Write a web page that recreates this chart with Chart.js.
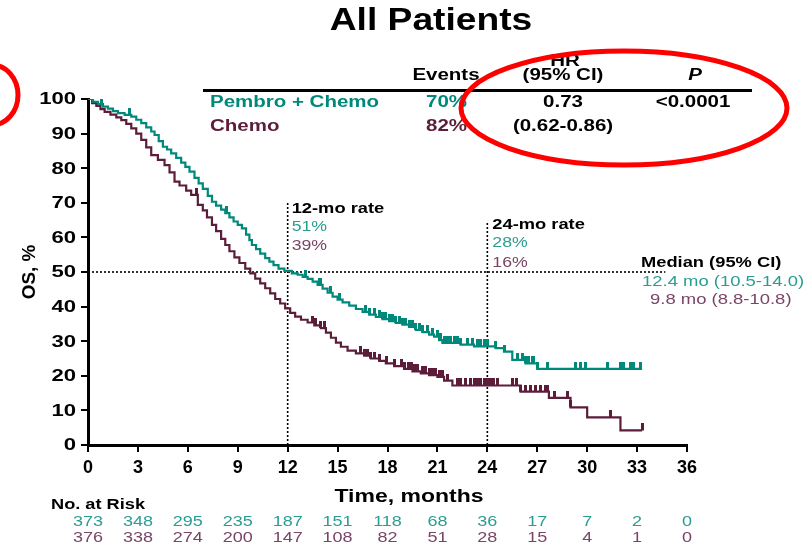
<!DOCTYPE html>
<html>
<head>
<meta charset="utf-8">
<script src="https://cdn.jsdelivr.net/npm/chart.js@4.4.1/dist/chart.umd.min.js"></script>
<style>
  html, body { margin: 0; padding: 0; background: #fff; }
</style>
</head>
<body>
<canvas id="km" width="805" height="549"></canvas>
<script>
// colours
const TEAL = '#00897b';
const PLUM = '#5c1d3a';
const TEAL_TXT = '#2a9d92';
const PLUM_TXT = '#7a4468';

// Kaplan-Meier steps (months, % alive)
const pembroTimes = [0, 0.3, 0.6, 0.9, 1.2, 1.5, 1.8, 2.2, 2.6, 2.9, 3.2, 3.5, 3.8, 4.0, 4.25, 4.5, 4.75, 5.0, 5.3, 5.6, 5.85, 6.1, 6.4, 6.65, 6.9, 7.2, 7.45, 7.7, 8.0, 8.25, 8.5, 8.75, 9.0, 9.25, 9.5, 9.7, 9.85, 10.1, 10.35, 10.65, 10.9, 11.15, 11.45, 11.8, 12.25, 12.6, 12.9, 13.2, 13.5, 13.8, 14.1, 14.4, 14.7, 15.0, 15.3, 15.7, 16.1, 16.5, 16.9, 17.3, 17.7, 18.1, 18.5, 18.9, 19.3, 19.7, 20.1, 20.5, 20.8, 21.1, 21.3, 22.4, 23.2, 24.5, 25.0, 25.5, 26.3, 27.0, 33.3];
const pembroSurv  = [100, 99.2, 98.5, 97.8, 97.2, 96.5, 95.9, 95.4, 94.9, 94, 93, 91.8, 90.6, 89.6, 87.8, 86.2, 85.4, 84.3, 83, 81.6, 80.4, 79, 77.2, 75.6, 74, 72, 70.3, 69.2, 68, 67, 65.8, 64.6, 63.6, 62.6, 60.8, 59.2, 57.8, 56.6, 55.3, 54, 53, 52, 51, 50.3, 49.6, 49.2, 48.6, 48, 47.2, 46.3, 45.2, 44, 42.9, 42, 41.2, 40.3, 39.3, 38.5, 37.7, 37, 36.4, 35.8, 35.3, 34.8, 34.1, 33.3, 32.6, 31.9, 31.3, 30.3, 29.5, 29, 28.5, 28, 27, 24.6, 23.6, 22, 22];

const chemoTimes = [0, 0.25, 0.5, 0.75, 1.0, 1.35, 1.7, 2.0, 2.3, 2.6, 2.9, 3.2, 3.5, 3.8, 4.2, 4.6, 4.9, 5.2, 5.5, 5.9, 6.2, 6.6, 6.9, 7.15, 7.45, 7.7, 8.0, 8.25, 8.5, 8.8, 9.1, 9.45, 9.75, 10.05, 10.35, 10.65, 10.95, 11.25, 11.55, 11.85, 12.15, 12.45, 12.8, 13.2, 13.6, 14.0, 14.3, 14.6, 14.9, 15.2, 15.6, 16.1, 16.6, 17.0, 17.5, 17.9, 18.4, 19.0, 19.5, 20.0, 20.5, 21.0, 21.4, 21.9, 26.0, 27.7, 29.0, 30.0, 32.0, 33.3];
const chemoSurv  = [100, 98.8, 98, 97.1, 96.3, 95.5, 94.7, 93.9, 92.8, 91.5, 90, 88.2, 86, 83.8, 82.4, 80.9, 78.8, 76.1, 75, 73.5, 72.3, 69.4, 67.8, 65.8, 63.6, 61.8, 59.6, 57.8, 56, 54.2, 52.6, 51, 49.6, 48.1, 46.7, 45.3, 43.8, 42.2, 40.9, 39.5, 38.2, 37.1, 36.2, 35.4, 34.6, 33.8, 32.5, 31, 29.6, 28.4, 27.3, 26.5, 25.8, 25, 24.3, 23.6, 22.8, 22, 21.3, 20.7, 20.2, 19.7, 18.6, 17.2, 15.4, 13.6, 10.9, 8, 4.2, 4.2];

// censoring times
const pembroCensor = [0.8, 2.5, 8.3, 13.1, 13.9, 14.0, 14.6, 15.1, 16.7, 16.9, 17.2, 17.5, 17.7, 17.9, 18.1, 18.3, 18.5, 18.7, 18.9, 19.1, 19.3, 19.5, 19.7, 19.9, 20.1, 20.4, 20.7, 21.0, 21.2, 21.4, 21.6, 21.8, 22.0, 22.2, 22.4, 22.8, 23.1, 23.4, 23.6, 23.8, 24.0, 24.5, 25.06, 25.8, 26.1, 26.3, 26.5, 26.7, 26.8, 27.0, 27.6, 29.3, 29.6, 29.9, 31.2, 32.0, 32.2, 32.6, 32.8, 33.2];
const chemoCensor  = [0, 6.5, 13.5, 13.7, 14.0, 14.2, 16.4, 16.6, 16.8, 17.0, 17.2, 17.5, 17.95, 18.45, 18.85, 19.05, 19.25, 19.45, 19.65, 19.8, 20.1, 20.3, 20.5, 20.7, 20.9, 21.1, 21.3, 21.6, 22.2, 22.4, 22.7, 23.0, 23.2, 23.4, 23.6, 23.8, 24.0, 24.2, 24.35, 24.6, 25.5, 25.75, 26.0, 26.3, 26.6, 26.9, 27.2, 27.5, 27.6, 28.05, 28.8, 29.0, 31.4, 33.3];

// axis ticks and number at risk
const xTicks = [0, 3, 6, 9, 12, 15, 18, 21, 24, 27, 30, 33, 36];
const yTicks = [0, 10, 20, 30, 40, 50, 60, 70, 80, 90, 100];
const riskPembro = [373, 348, 295, 235, 187, 151, 118, 68, 36, 17, 7, 2, 0];
const riskChemo  = [376, 338, 274, 200, 147, 108, 82, 51, 28, 15, 4, 1, 0];

const FONT = "'Liberation Sans', Arial, sans-serif";

function toPoints(times, surv) {
    return times.map((t, i) => ({ x: t, y: surv[i] }));
}

// value of the step curve at time t
function survAt(times, surv, t) {
    let v = surv[0];
    for (let i = 0; i < times.length; i++) {
        if (times[i] <= t) v = surv[i];
    }
    return v;
}

function censorPoints(cens, times, surv) {
    return cens.map(t => ({ x: t, y: survAt(times, surv, t) }));
}

// small vertical tick that sits on top of the line
function tickMark(color) {
    const c = document.createElement('canvas');
    c.width = 3;
    c.height = 14;
    const g = c.getContext('2d');
    g.fillStyle = color;
    g.fillRect(0, 0, 3, 7);
    return c;
}

// the source artwork is stretched sideways, so text gets a horizontal scale
function txt(ctx, s, x, y, font, color, align, sx) {
    ctx.save();
    ctx.font = font;
    ctx.fillStyle = color;
    ctx.textAlign = align;
    ctx.textBaseline = 'middle';
    ctx.translate(x, y);
    ctx.scale(sx, 1);
    ctx.fillText(s, 0, 0);
    ctx.restore();
}

const extras = {
    id: 'extras',
    beforeDatasetsDraw(chart) {
        const { ctx, scales: { x, y } } = chart;
        ctx.save();
        ctx.strokeStyle = '#000';
        ctx.lineWidth = 1.6;
        ctx.setLineDash([2, 2]);
        // median line
        ctx.beginPath();
        ctx.moveTo(x.getPixelForValue(0), y.getPixelForValue(50));
        ctx.lineTo(x.getPixelForValue(34.7), y.getPixelForValue(50));
        ctx.stroke();
        // 12 and 24 month lines
        ctx.beginPath();
        ctx.moveTo(x.getPixelForValue(12), y.getPixelForValue(0));
        ctx.lineTo(x.getPixelForValue(12), y.getPixelForValue(70.5));
        ctx.moveTo(x.getPixelForValue(24), y.getPixelForValue(0));
        ctx.lineTo(x.getPixelForValue(24), y.getPixelForValue(64.5));
        ctx.stroke();
        ctx.restore();
    },
    afterDraw(chart) {
        const { ctx, scales: { x, y } } = chart;
        const B = 'bold ';

        // title
        txt(ctx, 'All Patients', 431, 21, B + '31px ' + FONT, '#000', 'center', 1.2);

        // y tick labels
        yTicks.forEach(v => {
            txt(ctx, String(v), 76, y.getPixelForValue(v) + 1, B + '16px ' + FONT, '#000', 'right', 1.38);
        });

        // axis titles
        txt(ctx, 'Time, months', 409, 497, B + '19px ' + FONT, '#000', 'center', 1.21);
        ctx.save();
        ctx.translate(30, 272);
        ctx.rotate(-Math.PI / 2);
        txt(ctx, 'OS, %', 0, 0, B + '18px ' + FONT, '#000', 'center', 1.05);
        ctx.restore();

        // HR table
        const T = B + '16px ' + FONT;
        const S = 1.28;
        txt(ctx, 'Events', 446, 76, T, '#000', 'center', S);
        txt(ctx, 'HR', 565, 62, T, '#000', 'center', S);
        txt(ctx, '(95% CI)', 563, 76, T, '#000', 'center', S);
        txt(ctx, 'P', 695, 76, 'italic ' + T, '#000', 'center', S);
        ctx.fillStyle = '#000';
        ctx.fillRect(203, 89, 549, 3);
        txt(ctx, '0.73', 563, 103, T, '#000', 'center', S);
        txt(ctx, '<0.0001', 693, 103, T, '#000', 'center', S);
        txt(ctx, '(0.62-0.86)', 563, 127, T, '#000', 'center', S);
        txt(ctx, 'Pembro + Chemo', 210, 103, T, TEAL, 'left', S);
        txt(ctx, '70%', 426, 103, T, TEAL, 'left', S);
        txt(ctx, 'Chemo', 210, 127, T, PLUM, 'left', S);
        txt(ctx, '82%', 426, 127, T, PLUM, 'left', S);

        // landmark rates
        const x12 = x.getPixelForValue(12) + 4;
        const x24 = x.getPixelForValue(24) + 5;
        const L = B + '15px ' + FONT;
        const N = '15px ' + FONT;
        txt(ctx, '12-mo rate', x12, 209, L, '#000', 'left', 1.22);
        txt(ctx, '51%', x12, 227, N, TEAL_TXT, 'left', 1.18);
        txt(ctx, '39%', x12, 246, N, PLUM_TXT, 'left', 1.18);
        txt(ctx, '24-mo rate', x24, 225, L, '#000', 'left', 1.22);
        txt(ctx, '28%', x24, 243, N, TEAL_TXT, 'left', 1.18);
        txt(ctx, '16%', x24, 263, N, PLUM_TXT, 'left', 1.18);

        // median
        txt(ctx, 'Median (95% CI)', 641, 263, L, '#000', 'left', 1.22);
        txt(ctx, '12.4 mo (10.5-14.0)', 642, 282, N, TEAL_TXT, 'left', 1.23);
        txt(ctx, '9.8 mo (8.8-10.8)', 650, 300, N, PLUM_TXT, 'left', 1.23);

        // number at risk
        txt(ctx, 'No. at Risk', 51, 505, B + '14px ' + FONT, '#000', 'left', 1.3);
        xTicks.forEach((t, i) => {
            const px = x.getPixelForValue(t);
            txt(ctx, String(riskPembro[i]), px, 522, '15px ' + FONT, TEAL_TXT, 'center', 1.2);
            txt(ctx, String(riskChemo[i]), px, 538, '15px ' + FONT, PLUM_TXT, 'center', 1.2);
        });

        // red highlight rings
        ctx.save();
        ctx.strokeStyle = '#ff0000';
        ctx.lineWidth = 5;
        ctx.beginPath();
        ctx.ellipse(624, 108, 163, 57, 0, 0, Math.PI * 2);
        ctx.stroke();
        ctx.beginPath();
        ctx.ellipse(-8, 95, 26, 30, 0, 0, Math.PI * 2);
        ctx.stroke();
        ctx.restore();
    }
};

const ctx = document.getElementById('km').getContext('2d');
new Chart(ctx, {
    type: 'scatter',
    data: {
        datasets: [
            {
                label: 'Pembro + Chemo',
                data: toPoints(pembroTimes, pembroSurv),
                showLine: true,
                stepped: true,
                borderColor: TEAL,
                borderWidth: 2.2,
                pointRadius: 0
            },
            {
                label: 'Chemo',
                data: toPoints(chemoTimes, chemoSurv),
                showLine: true,
                stepped: true,
                borderColor: PLUM,
                borderWidth: 2.2,
                pointRadius: 0
            },
            {
                label: 'Pembro censored',
                data: censorPoints(pembroCensor, pembroTimes, pembroSurv),
                pointStyle: tickMark(TEAL),
                showLine: false
            },
            {
                label: 'Chemo censored',
                data: censorPoints(chemoCensor, chemoTimes, chemoSurv),
                pointStyle: tickMark(PLUM),
                showLine: false
            }
        ]
    },
    options: {
        responsive: false,
        animation: false,
        devicePixelRatio: 1,
        events: [],
        layout: { padding: { top: 99, right: 118, left: 0, bottom: 0 } },
        plugins: {
            legend: { display: false },
            tooltip: { enabled: false }
        },
        scales: {
            x: {
                type: 'linear',
                min: 0,
                max: 36,
                afterFit: s => { s.height = 104; },
                afterBuildTicks: s => { s.ticks = xTicks.map(v => ({ value: v })); },
                ticks: {
                    color: '#000',
                    font: { family: FONT, size: 18, weight: 'bold' },
                    padding: 5,
                    maxRotation: 0
                },
                grid: { display: true, drawOnChartArea: false, drawTicks: true, tickLength: 7, color: '#000', lineWidth: 2 },
                border: { display: true, color: '#000', width: 3 }
            },
            y: {
                min: 0,
                max: 100,
                afterFit: s => { s.width = 88; },
                afterBuildTicks: s => { s.ticks = yTicks.map(v => ({ value: v })); },
                ticks: { display: false },
                grid: { display: true, drawOnChartArea: false, drawTicks: true, tickLength: 7, color: '#000', lineWidth: 2 },
                border: { display: true, color: '#000', width: 3 }
            }
        }
    },
    plugins: [extras]
});
</script>
</body>
</html>
